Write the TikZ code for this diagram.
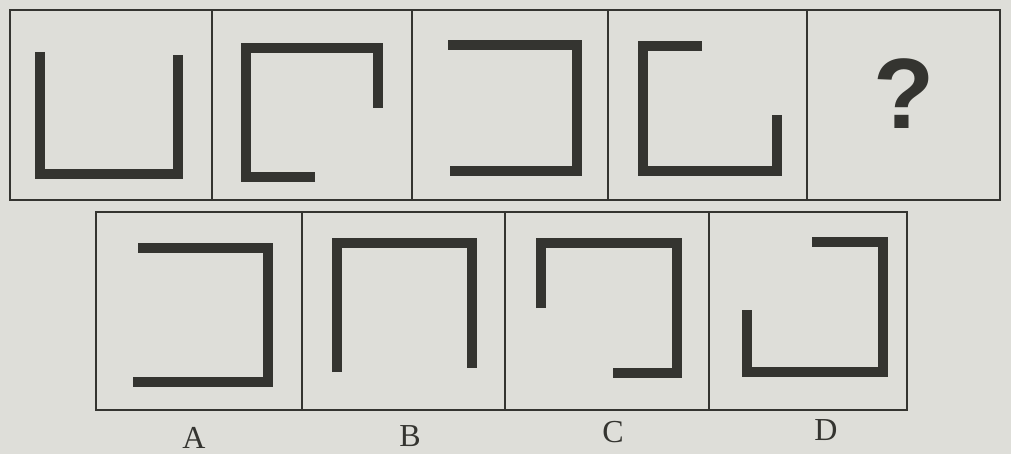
\documentclass[tikz,border=0pt]{standalone}
\usepackage{fontspec}
\newfontfamily\qfont{Liberation Sans}
\newfontfamily\lfont{Liberation Serif}
\definecolor{paper}{RGB}{222,222,217}
\definecolor{ink}{RGB}{52,52,48}
\tikzset{
  frame/.style={draw=ink,line width=1.1pt},
  bar/.style={draw=ink,line width=5.4pt,line join=miter},
  letter/.style={font=\lfont\fontsize{16}{16}\selectfont,text=ink}
}
\begin{document}
\begin{tikzpicture}[x=0.5pt,y=-0.5pt]
  \fill[paper] (0,0) rectangle (1011,454);
  \useasboundingbox (0,0) rectangle (1011,454);
  % question row
  \draw[frame] (10,10) rectangle (1000,200);
  \foreach \xd in {212,412,608,807} \draw[frame] (\xd,10) -- (\xd,200);
  \draw[bar] (40,52) -- (40,174) -- (178,174) -- (178,55);
  \draw[bar] (315,177) -- (246,177) -- (246,48) -- (378,48) -- (378,108);
  \draw[bar] (448,45) -- (577,45) -- (577,171) -- (450,171);
  \draw[bar] (702,46) -- (643,46) -- (643,171) -- (777,171) -- (777,115);
  \node[text=ink,font=\qfont\bfseries\fontsize{50}{50}\selectfont] (q) at (904,94) {?};
  % answer row
  \draw[frame] (96,212) rectangle (907,410);
  \foreach \xd in {302,505,709} \draw[frame] (\xd,212) -- (\xd,410);
  \draw[bar] (138,248) -- (268,248) -- (268,382) -- (133,382);
  \draw[bar] (337,372) -- (337,243) -- (472,243) -- (472,368);
  \draw[bar] (541,308) -- (541,243) -- (677,243) -- (677,373) -- (613,373);
  \draw[bar] (812,242) -- (883,242) -- (883,372) -- (747,372) -- (747,310);
  \node[letter] (la) at (194,438) {A};
  \node[letter] (lb) at (410,436) {B};
  \node[letter] (lc) at (613,432) {C};
  \node[letter] (ld) at (826,430) {D};
\end{tikzpicture}
\end{document}
